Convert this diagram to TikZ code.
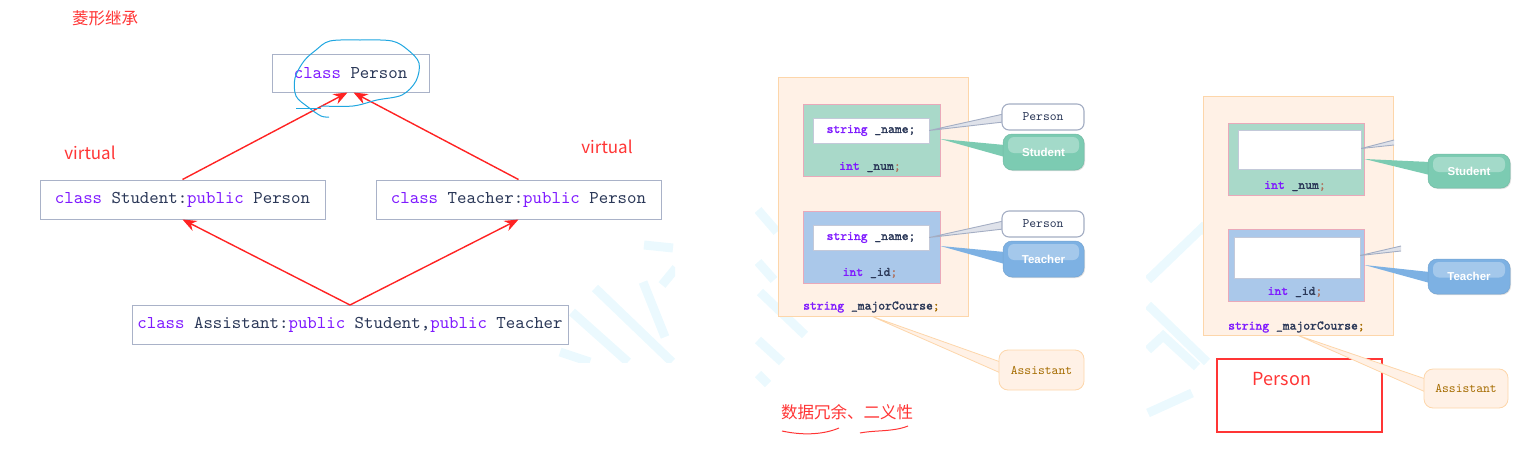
\documentclass[tikz,border=0pt]{standalone}
\usepackage{fontspec}
\setmainfont{Liberation Sans}
\setmonofont{lmmono10-regular.otf}[AutoFakeBold=1.6]
\newfontfamily\cjk{Noto Sans CJK SC}
\usepackage{xcolor}
\usetikzlibrary{positioning, arrows.meta, calc, shadows}

\definecolor{kwpurple}{HTML}{7F1AFF}
\definecolor{codedark}{HTML}{2B3858}
\definecolor{boxline}{HTML}{A9B2C8}
\definecolor{arrowred}{HTML}{FF2323}
\definecolor{notered}{HTML}{FF3535}
\definecolor{scribble}{HTML}{1FA6E0}
\definecolor{peachfill}{HTML}{FFF1E6}
\definecolor{peachline}{HTML}{FDD6AA}
\definecolor{tealfill}{HTML}{A9D9C9}
\definecolor{bluefill}{HTML}{AAC8EA}
\definecolor{pinkline}{HTML}{E9A9BA}
\definecolor{tealtag}{HTML}{7CCBB2}
\definecolor{bluetag}{HTML}{7DB1E3}
\definecolor{tagline}{HTML}{A3ADC3}
\definecolor{golden}{HTML}{A56C00}
\definecolor{semibrown}{HTML}{B0705A}
\definecolor{wmark}{HTML}{EBF9FE}

\newcommand{\kw}[1]{\textcolor{kwpurple}{#1}}

\pgfdeclarelayer{tail}
\pgfdeclarelayer{front}
\pgfsetlayers{main,tail,front}

\tikzset{
  classbox/.style={draw=boxline, line width=1pt, fill=white, inner sep=0pt,
    text=codedark, font=\ttfamily\fontsize{18}{20}\selectfont},
  inherit/.style={draw=arrowred, line width=1.4pt, -{Stealth[length=14pt,width=11pt]}},
  note/.style={text=notered, inner sep=0pt, font=\cjk\fontsize{#1}{#1}\selectfont},
  note/.default=17,
  objbox/.style={draw=peachline, line width=0.8pt, fill=peachfill, inner sep=0pt},
  partbox/.style={draw=pinkline, line width=0.8pt, fill=#1, inner sep=0pt},
  namebox/.style={draw=boxline!70, line width=0.5pt, fill=white, inner sep=0pt,
    text=codedark, font=\ttfamily\bfseries\fontsize{13}{15}\selectfont},
  code/.style={inner sep=0pt, text=codedark, font=\ttfamily\bfseries\fontsize{13}{15}\selectfont},
  gloss/.style={path picture={\fill[white, opacity=0.3, rounded corners=6pt]
    ($(path picture bounding box.north west)+(5,3)$) rectangle
    ($(path picture bounding box.east)+(-5,1)$);}},
  tagwhite/.style={draw=tagline, line width=1.1pt, fill=white, rounded corners=7pt,
    minimum width=82pt, minimum height=26pt, inner sep=0pt,
    text=codedark, font=\ttfamily\fontsize{13}{15}\selectfont},
  tagcolor/.style={fill=#1, draw=#1!92!black, line width=0.5pt, rounded corners=9pt,
    minimum width=81pt, minimum height=36pt, inner sep=0pt, gloss,
    drop shadow={shadow xshift=1pt, shadow yshift=-1pt, opacity=0.25},
    text=white, font=\bfseries\fontsize{11.5}{13}\selectfont},
  tagpeach/.style={fill=peachfill, draw=peachline, line width=0.8pt, rounded corners=9pt,
    minimum width=85pt, minimum height=40pt, inner sep=0pt,
    text=golden, font=\ttfamily\fontsize{13}{15}\selectfont},
  wm/.style={draw=wmark, line width=9pt},
}

\begin{document}
\begin{tikzpicture}[x=1pt, y=-1pt]
\useasboundingbox (0,0) rectangle (1527,458);

% watermark
\begin{scope}
  \clip (540,200) rectangle (675,362);
  \draw[wm] (595,288) -- (672,362);
  \draw[wm] (572,312) -- (628,362);
  \draw[wm] (643,282) -- (665,337);
  \draw[wm] (644,245) -- (673,248);
  \draw[wm] (662,285) -- (676,268);
  \draw[wm] (560,352) -- (590,362);
\end{scope}
\begin{scope}
  \clip (755,190) rectangle (830,425);
  \draw[wm] (758,210) -- (777,232);
  \draw[wm] (758,262) -- (774,280);
  \draw[wm] (760,292) -- (805,335);
  \draw[wm] (758,340) -- (782,362);
  \draw[wm] (758,374) -- (768,384);
\end{scope}
\begin{scope}
  \clip (1146,200) rectangle (1260,420);
  \draw[wm] (1148,280) -- (1202,228) -- (1232,257);
  \draw[wm] (1148,305) -- (1207,362);
  \draw[wm] (1160,333) -- (1197,367);
  \draw[wm] (1148,413) -- (1192,393);
  \draw[wm] (1148,350) -- (1162,337);
\end{scope}

% diamond inheritance
\node[note=16.5] (title) at (105,18) {菱形继承};
\node[classbox, minimum width=157pt, minimum height=38pt] (person) at (350.5,73) {\kw{class} Person};
\node[classbox, minimum width=285pt, minimum height=39pt] (student) at (182.5,199.5) {\kw{class} Student:\kw{public} Person};
\node[classbox, minimum width=285pt, minimum height=39pt] (teacher) at (518.5,199.5) {\kw{class} Teacher:\kw{public} Person};
\node[classbox, minimum width=436pt, minimum height=39pt] (assistant) at (350,325) {\kw{class} Assistant:\kw{public} Student,\kw{public} Teacher};
\node[note] (virtualL) at (90,153) {virtual};
\node[note] (virtualR) at (607,147) {virtual};

\draw[inherit] (student.north) -- ([xshift=-3pt]person.south);
\draw[inherit] (teacher.north) -- ([xshift=3pt]person.south);
\draw[inherit] (assistant.north) -- (student.south);
\draw[inherit] (assistant.north) -- (teacher.south);

% hand drawn circle
\draw[scribble, line width=1pt, line join=round] plot[smooth, tension=0.55] coordinates {
  (321,106) (353,106) (377,100) (402,95) (416,81) (419,63) (408,50) (392,41) (360,40)
  (330,41) (316,50) (304,61) (295,78) (296,96) (308,107) (321,116) (329,117)};
\draw[scribble, line width=1pt] (296,108) -- (321,108);

% memory layout, redundant copy
\node[objbox, minimum width=190pt, minimum height=239pt] (asstA) at (873,196.5) {};
\node[partbox=tealfill, minimum width=137pt, minimum height=72pt] (stuA) at (871.5,140) {};
\node[namebox, minimum width=116pt, minimum height=25pt] (stuAname) at (871,130.5) {\kw{string} \_name;};
\node[code] (numA) at (870,167) {\kw{int} \_num\textcolor{semibrown}{;}};
\node[partbox=bluefill, minimum width=137pt, minimum height=72pt] (teaA) at (871.5,247) {};
\node[namebox, minimum width=116pt, minimum height=25pt] (teaAname) at (871,237.5) {\kw{string} \_name;};
\node[code] (idA) at (870,273) {\kw{int} \_id\textcolor{semibrown}{;}};
\node[code, anchor=west] (majorA) at (803,307) {\kw{string} \_majorCourse\textcolor{golden}{;}};

\begin{pgfonlayer}{front}
\node[tagwhite] (perA1) at (1043,117) {Person};
\node[tagcolor=tealtag] (stuTagA) at (1043.5,152) {Student};
\node[tagwhite] (perA2) at (1043,224) {Person};
\node[tagcolor=bluetag] (teaTagA) at (1043.5,259) {Teacher};
\node[tagpeach] (asstTagA) at (1041.5,370) {Assistant};
\end{pgfonlayer}

\begin{pgfonlayer}{tail}
\filldraw[fill=tagline!35, draw=tagline, line width=0.9pt] (stuAname.east) -- ($(perA1.west)+(2,-3)$) -- ($(perA1.west)+(2,5)$) -- cycle;
\fill[tealtag] ($(stuA.east)+(0,-1)$) -- ($(stuTagA.west)+(2,-7)$) -- ($(stuTagA.west)+(2,5)$) -- cycle;
\filldraw[fill=tagline!35, draw=tagline, line width=0.9pt] (teaAname.east) -- ($(perA2.west)+(2,-3)$) -- ($(perA2.west)+(2,5)$) -- cycle;
\fill[bluetag] ($(teaA.east)+(0,-1)$) -- ($(teaTagA.west)+(2,-7)$) -- ($(teaTagA.west)+(2,5)$) -- cycle;
\filldraw[fill=peachfill, draw=peachline, line width=0.8pt] ($(asstA.south)+(-1,0)$) -- ($(asstTagA.west)+(2,-8)$) -- ($(asstTagA.west)+(2,3)$) -- cycle;
\end{pgfonlayer}

\node[note=16.5] (redundant) at (847,412) {数据冗余、二义性};
\draw[notered, line width=1pt] (782,431) .. controls (805,436) and (825,434) .. (839,428);
\draw[notered, line width=1pt] (860,433) .. controls (875,430) and (893,432) .. (908,426);

% memory layout, virtual inheritance
\node[objbox, minimum width=190pt, minimum height=239pt] (asstB) at (1298,215.5) {};
\node[partbox=tealfill, minimum width=136pt, minimum height=72pt] (stuB) at (1296,159) {};
\node[namebox, minimum width=123pt, minimum height=39pt] (stuBblank) at (1299.5,149.5) {};
\node[code] (numB) at (1295,186) {\kw{int} \_num\textcolor{semibrown}{;}};
\node[partbox=bluefill, minimum width=136pt, minimum height=72pt] (teaB) at (1296,265) {};
\node[namebox, minimum width=126pt, minimum height=41pt] (teaBblank) at (1297,257.5) {};
\node[code] (idB) at (1295,292) {\kw{int} \_id\textcolor{semibrown}{;}};
\node[code, anchor=west] (majorB) at (1228,327) {\kw{string} \_majorCourse\textcolor{golden}{;}};

\coordinate (perB1) at (1394,142.5);
\coordinate (perB2) at (1401,248.5);

\begin{pgfonlayer}{front}
\node[tagcolor=tealtag, minimum width=82pt, minimum height=34pt] (stuTagB) at (1469,171) {Student};
\node[tagcolor=bluetag, minimum width=82pt, minimum height=35pt] (teaTagB) at (1469,276.5) {Teacher};
\node[tagpeach, minimum width=84pt, minimum height=39pt] (asstTagB) at (1466,388.5) {Assistant};
\end{pgfonlayer}

\begin{pgfonlayer}{tail}
\fill[tagline!35] ($(stuBblank.east)+(0,-1)$) -- ($(perB1)+(0,-2.5)$) -- ($(perB1)+(0,2.5)$) -- cycle;
\draw[tagline, line width=0.9pt] ($(stuBblank.east)+(0,-1)$) -- ($(perB1)+(0,-2.5)$);
\draw[tagline, line width=0.9pt] ($(stuBblank.east)+(0,-1)$) -- ($(perB1)+(0,2.5)$);
\fill[tagline!35] ($(teaBblank.east)+(0,-2)$) -- ($(perB2)+(0,-2.5)$) -- ($(perB2)+(0,2.5)$) -- cycle;
\draw[tagline, line width=0.9pt] ($(teaBblank.east)+(0,-2)$) -- ($(perB2)+(0,-2.5)$);
\draw[tagline, line width=0.9pt] ($(teaBblank.east)+(0,-2)$) -- ($(perB2)+(0,2.5)$);
\fill[tealtag] (stuB.east) -- ($(stuTagB.west)+(2,-9)$) -- ($(stuTagB.west)+(2,4)$) -- cycle;
\fill[bluetag] (teaB.east) -- ($(teaTagB.west)+(2,-4.5)$) -- ($(teaTagB.west)+(2,6.5)$) -- cycle;
\filldraw[fill=peachfill, draw=peachline, line width=0.8pt] (asstB.south) -- ($(asstTagB.west)+(2,-9.5)$) -- ($(asstTagB.west)+(2,3.5)$) -- cycle;
\end{pgfonlayer}

\node[draw=notered, line width=1.5pt, minimum width=165pt, minimum height=73pt, inner sep=0pt] (personB) at (1299.5,395.5) {};
\node[note=18] (personBlabel) at (1282,379) {Person};

\end{tikzpicture}
\end{document}
